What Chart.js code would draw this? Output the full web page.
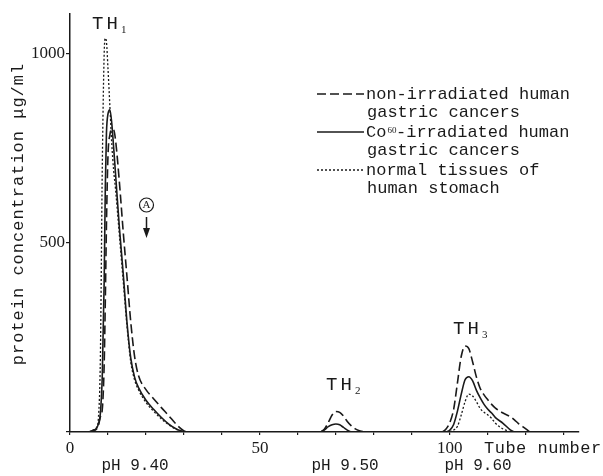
<!DOCTYPE html>
<html>
<head>
<meta charset="utf-8">
<script src="https://cdn.jsdelivr.net/npm/chart.js@4.4.1/dist/chart.umd.min.js"></script>
<style>
    body { margin: 0; background: #fff; }
    canvas { display: block; }
</style>
</head>
<body>
<canvas id="proteinChart" width="603" height="476"></canvas>
<script>
// tube numbers (null rows break the line between peaks)
var tubes = [5, 6, 7, 7.5, 8, 8.5, 9, 9.3, 9.6, 10, 10.5, 11, 11.5, 12, 13, 14, 15, 16, 17, 18, 20, 22, 24, 26, 28, 30, 31,
    50,
    66, 67, 68, 69, 70, 71, 72, 73, 74, 75, 76, 77.5,
    90,
    98, 99, 100, 101, 102, 103, 104, 105, 106, 107, 108, 109, 110, 111, 112, 114, 116, 117, 118, 120, 121];

// non-irradiated human gastric cancers (dashed)
var nonIrradiated = [0, 3, 8, 18, 40, 60, 180, 350, 550, 730, 785, 800, 798, 770, 660, 530, 410, 290, 200, 150, 112, 88, 65, 43, 20, 3, 0,
    null,
    0, 8, 25, 45, 54, 52, 42, 28, 17, 9, 4, 0,
    null,
    0, 8, 25, 60, 130, 200, 227, 220, 185, 145, 115, 98, 85, 73, 63, 50, 40, 32, 23, 8, 0];

// Co60-irradiated human gastric cancers (solid)
var coIrradiated = [0, 4, 10, 22, 50, 150, 400, 650, 790, 840, 851, 815, 750, 680, 540, 420, 290, 195, 145, 118, 84, 60, 39, 21, 8, 0, null,
    null,
    0, 6, 14, 19, 21, 19, 12, 5, 0, null, null, null,
    null,
    null, 0, 5, 20, 55, 100, 138, 146, 135, 110, 90, 73, 60, 50, 38, 23, 5, 0, null, null, null];

// normal tissues of human stomach (dotted)
var normalTissue = [0, 5, 12, 40, 200, 700, 1000, 1040, 1030, 960, 860, 760, 690, 640, 520, 400, 280, 185, 138, 112, 78, 55, 35, 19, 7, 0, null,
    null,
    null, null, null, null, null, null, null, null, null, null, null, null,
    null,
    null, null, 0, 5, 15, 45, 80, 100, 95, 80, 62, 52, 45, 36, 23, 8, 0, null, null, null, null];

var xTickLabels = [0, 50, 100];
var yTickValues = [0, 500, 1000];

var legendLabels = [
    ['non-irradiated human', 'gastric cancers'],
    ['Co', '-irradiated human', 'gastric cancers'],
    ['normal tissues of', 'human stomach']
];

var ink = '#1a1a1a';
var monoFont = '"Courier New", "Nimbus Mono PS", "FreeMono", "Liberation Mono"';

function toPoints(values) {
    var points = [];
    for (var i = 0; i < tubes.length; i++) {
        points.push({ x: tubes[i], y: values[i] });
    }
    return points;
}

function drawTH(ctx, x, y, sub) {
    ctx.font = '19px ' + monoFont;
    ctx.letterSpacing = '3px';
    ctx.textAlign = 'left';
    ctx.textBaseline = 'middle';
    ctx.fillText('TH', x, y);
    ctx.letterSpacing = '0px';
    ctx.font = '11px "Liberation Serif"';
    ctx.fillText(sub, x + 29, y + 6);
}

var annotations = {
    id: 'annotations',
    afterDraw: function (chart) {
        var ctx = chart.ctx;
        ctx.save();
        ctx.fillStyle = ink;
        ctx.strokeStyle = ink;

        // peak names
        drawTH(ctx, 92, 24, '1');
        drawTH(ctx, 326, 385, '2');
        drawTH(ctx, 453, 329, '3');

        // y axis title
        ctx.save();
        ctx.translate(18, 214);
        ctx.rotate(-Math.PI / 2);
        ctx.font = '17px ' + monoFont;
        ctx.letterSpacing = '1px';
        ctx.textAlign = 'center';
        ctx.textBaseline = 'middle';
        ctx.fillText('protein concentration \u03bcg/ml', 0, 0);
        ctx.restore();

        // x axis title and pH
        ctx.font = '17px ' + monoFont;
        ctx.letterSpacing = '0.5px';
        ctx.textAlign = 'left';
        ctx.textBaseline = 'middle';
        ctx.fillText('Tube number', 484, 448);
        ctx.font = '16px ' + monoFont;
        ctx.letterSpacing = '0px';
        ctx.textAlign = 'center';
        ctx.fillText('pH 9.40', 135, 466);
        ctx.fillText('pH 9.50', 345, 466);
        ctx.fillText('pH 9.60', 478, 466);

        // circled A with arrow
        ctx.lineWidth = 1.2;
        ctx.beginPath();
        ctx.arc(146.5, 205, 7, 0, Math.PI * 2);
        ctx.stroke();
        ctx.font = '11px "Liberation Serif"';
        ctx.fillText('A', 146.5, 205.5);
        ctx.lineWidth = 1.5;
        ctx.beginPath();
        ctx.moveTo(146.5, 217);
        ctx.lineTo(146.5, 231);
        ctx.stroke();
        ctx.beginPath();
        ctx.moveTo(143, 228);
        ctx.lineTo(150, 228);
        ctx.lineTo(146.5, 238);
        ctx.closePath();
        ctx.fill();

        // legend
        var rows = [94, 112, 132, 150, 170, 188];
        var dashes = [[9, 4], [], [2, 2]];
        ctx.lineWidth = 1.5;
        for (var i = 0; i < 3; i++) {
            ctx.setLineDash(dashes[i]);
            ctx.beginPath();
            ctx.moveTo(317, rows[i * 2]);
            ctx.lineTo(364, rows[i * 2]);
            ctx.stroke();
        }
        ctx.setLineDash([]);
        ctx.font = '17px ' + monoFont;
        ctx.textAlign = 'left';
        ctx.textBaseline = 'middle';
        ctx.fillText(legendLabels[0][0], 366, rows[0]);
        ctx.fillText(legendLabels[0][1], 367, rows[1]);
        ctx.fillText(legendLabels[1][0], 366, rows[2]);
        var coWidth = ctx.measureText(legendLabels[1][0]).width;
        ctx.font = '9px "Liberation Serif"';
        ctx.fillText('60', 366 + coWidth + 1, rows[2] - 1);
        ctx.font = '17px ' + monoFont;
        ctx.fillText(legendLabels[1][1], 396, rows[2]);
        ctx.fillText(legendLabels[1][2], 367, rows[3]);
        ctx.fillText(legendLabels[2][0], 366, rows[4]);
        ctx.fillText(legendLabels[2][1], 367, rows[5]);

        ctx.restore();
    }
};

var chart = new Chart(document.getElementById('proteinChart').getContext('2d'), {
    type: 'line',
    data: {
        datasets: [{
            label: 'non-irradiated human gastric cancers',
            data: toPoints(nonIrradiated),
            borderColor: ink,
            borderWidth: 1.6,
            borderDash: [9, 4]
        }, {
            label: 'Co60-irradiated human gastric cancers',
            data: toPoints(coIrradiated),
            borderColor: ink,
            borderWidth: 1.6
        }, {
            label: 'normal tissues of human stomach',
            data: toPoints(normalTissue),
            borderColor: ink,
            borderWidth: 1.3,
            borderDash: [2, 2]
        }]
    },
    options: {
        responsive: false,
        animation: false,
        devicePixelRatio: 1,
        spanGaps: false,
        elements: {
            point: { radius: 0 },
            line: { cubicInterpolationMode: 'monotone', fill: false }
        },
        layout: {
            padding: { top: 14, right: 24, left: 0, bottom: 0 }
        },
        plugins: {
            legend: { display: false },
            tooltip: { enabled: false }
        },
        scales: {
            x: {
                type: 'linear',
                min: 0,
                max: 134,
                afterFit: function (scale) { scale.height = 44; },
                border: { color: ink, width: 1.5 },
                grid: { drawOnChartArea: false, color: ink, tickLength: 3, lineWidth: 1.2 },
                ticks: {
                    stepSize: 10,
                    autoSkip: false,
                    maxRotation: 0,
                    includeBounds: false,
                    padding: 3,
                    color: ink,
                    font: { family: 'Liberation Serif', size: 17 },
                    callback: function (value) {
                        return xTickLabels.indexOf(value) >= 0 ? value : '';
                    }
                }
            },
            y: {
                min: 0,
                max: 1104,
                afterFit: function (scale) { scale.width = 70; },
                afterBuildTicks: function (scale) {
                    scale.ticks = yTickValues.map(function (v) { return { value: v }; });
                },
                border: { color: ink, width: 1.5 },
                grid: { drawOnChartArea: false, color: ink, tickLength: 4, lineWidth: 1.2 },
                ticks: {
                    autoSkip: false,
                    padding: 1,
                    color: ink,
                    font: { family: 'Liberation Serif', size: 17 },
                    callback: function (value) {
                        return value === 0 ? '' : value;
                    }
                }
            }
        }
    },
    plugins: [annotations]
});
</script>
</body>
</html>
